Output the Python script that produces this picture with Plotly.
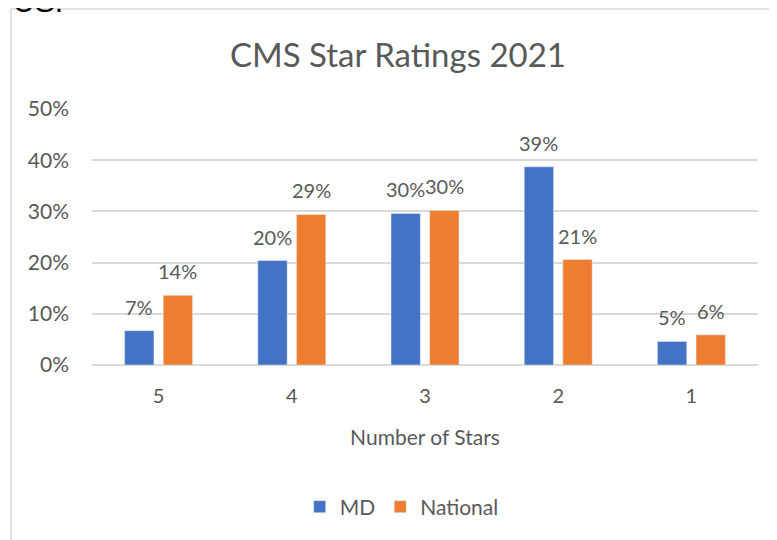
import plotly.graph_objects as go

categories = ["5", "4", "3", "2", "1"]
md_values = [0.067, 0.204, 0.296, 0.387, 0.046]
national_values = [0.136, 0.294, 0.302, 0.206, 0.059]
series_names = ["MD", "National"]
y_ticks = [0, 0.1, 0.2, 0.3, 0.4, 0.5]
y_tick_labels = ["0%", "10%", "20%", "30%", "40%", "50%"]

FONT = "Lato, Open Sans, sans-serif"
GRAY = "#595959"
COLORS = ["#4472C4", "#ED7D31"]

W, H = 769, 532
ML, MR, MT, MB = 84, 19, 101, 175
BARGAP = 0.42
plot_w = W - ML - MR
plot_h = H - MT - MB
cat_px = plot_w / len(categories)
bar_offset = (1 - BARGAP) / 4 * cat_px

fig = go.Figure()
annotations = []
for k, (name, vals) in enumerate(zip(series_names, [md_values, national_values])):
    fig.add_trace(go.Bar(x=categories, y=vals, name=name,
                         marker=dict(color=COLORS[k])))
    sign = -1 if k == 0 else 1
    for idx, v in enumerate(vals):
        # category axis: annotation x given as category index
        annotations.append(dict(
            x=idx, y=v, xref="x", yref="y", text=f"{round(v * 100)}%",
            showarrow=False, xanchor="center", yanchor="middle",
            xshift=sign * bar_offset, yshift=24,
            font=dict(family=FONT, size=20, color=GRAY)))

annotations.append(dict(text="US.", xref="paper", yref="paper",
                        x=-81 / plot_w, y=1 + 108 / plot_h, xanchor="left",
                        yanchor="middle", showarrow=False,
                        font=dict(family="Liberation Sans", size=30, color="black")))

fig.update_layout(
    width=W, height=H,
    margin=dict(l=ML, r=MR, t=MT, b=MB),
    paper_bgcolor="white", plot_bgcolor="white",
    barmode="group", bargap=BARGAP, bargroupgap=0.24,
    font=dict(family=FONT, color=GRAY),
    title=dict(text="CMS Star Ratings 2021", xref="container", x=390 / W,
               xanchor="center", yref="container", y=1 - 47 / H, yanchor="middle",
               font=dict(family=FONT, size=33, color=GRAY)),
    xaxis=dict(
        type="category", categoryarray=categories, categoryorder="array",
        range=[-0.5, len(categories) - 0.5],
        showgrid=False, showline=False, ticks="",
        ticklabelstandoff=17,
        tickfont=dict(family=FONT, size=20, color=GRAY),
        title=dict(text="Number of Stars", standoff=24,
                   font=dict(family=FONT, size=21, color=GRAY)),
    ),
    yaxis=dict(
        range=[0, 0.5], tickvals=y_ticks, ticktext=y_tick_labels,
        showgrid=True, gridcolor="#D9D9D9", gridwidth=1.5,
        zeroline=True, zerolinecolor="#D9D9D9", zerolinewidth=1.5,
        showline=False, ticks="", ticklabelstandoff=22,
        tickfont=dict(family=FONT, size=21, color=GRAY),
    ),
    legend=dict(orientation="h", x=0.465, xanchor="center", y=-142 / plot_h,
                yanchor="middle", font=dict(family=FONT, size=21, color=GRAY),
                itemwidth=30, traceorder="normal"),
    shapes=[dict(type="rect", xref="paper", yref="paper",
                 x0=-81 / plot_w, x1=1 + 12 / plot_w,
                 y0=-(MB + 10) / plot_h, y1=1 + 100 / plot_h,
                 line=dict(color="#D9D9D9", width=1.5), fillcolor="rgba(0,0,0,0)",
                 layer="below")],
    annotations=annotations,
)

fig.write_html("out.html")
